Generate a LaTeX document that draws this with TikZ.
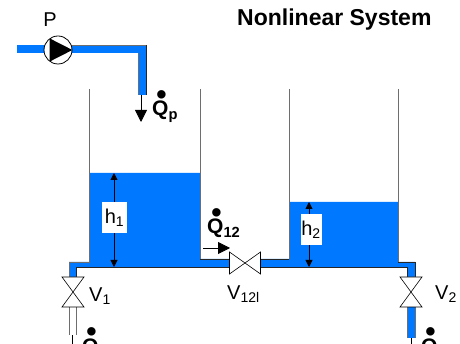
\documentclass[tikz,border=0pt]{standalone}
\usepackage{fontspec}
\setmainfont{Liberation Sans}
\usepackage{xcolor}
\usetikzlibrary{arrows.meta, positioning}
\definecolor{water}{RGB}{0,120,255}
\definecolor{wall}{RGB}{110,110,110}
\newcommand{\Qdot}[1]{\textbf{\rlap{\hspace{.2em}\raisebox{.53em}{\scalebox{1.4}{\textbullet}}}Q\textsubscript{#1}}}
\tikzset{
  label text/.style={inner sep=0pt, font=\fontsize{20}{20}\selectfont},
  flow text/.style={inner sep=0pt, anchor=base west, font=\fontsize{21}{21}\selectfont},
  height box/.style={fill=white, inner sep=0pt, font=\fontsize{20}{20}\selectfont},
  valve box/.style={minimum width=#1, inner sep=0pt, outer sep=0pt, fill=white},
  valve body/.style={draw=black, fill=white, line width=.6pt},
  wall line/.style={draw=wall, line width=.9pt},
  base line/.style={draw=black!85, line width=.8pt},
  flow arrow/.style={-{Triangle[length=12pt,width=12pt]}, line width=.8pt},
  height arrow/.style={{Triangle[length=7pt,width=7pt]}-{Triangle[length=7pt,width=7pt]}, line width=.8pt}
}
\begin{document}
\begin{tikzpicture}[x=1pt,y=-1pt]
\useasboundingbox (0,0) rectangle (460,344);
% water and pipes
\fill[water] (89,173) -- (200,173) -- (200,259) -- (289,259) -- (289,202) -- (398,202) -- (398,262) -- (415,262) -- (415,277) -- (407,277) -- (407,267) -- (76,267) -- (76,277) -- (69,277) -- (69,262) -- (89,262) -- cycle;
\fill[water] (17,45) rectangle (146,53);
\fill[water] (138,45) rectangle (146,95);
\fill[water] (407,307) rectangle (415,338);
\draw[wall line] (58,45) -- (146,45);
\draw[base line] (146,45) -- (146,95);
\draw[wall line] (138,53) -- (138,95);
% tanks
\draw[wall line] (89,89) -- (89,262) -- (69,262) -- (69,277);
\draw[wall line] (200,89) -- (200,259);
\draw[base line] (200,259) -- (229,259);
\draw[wall line] (289,89) -- (289,259);
\draw[base line] (260,259) -- (289,259);
\draw[wall line] (398,89) -- (398,262);
\draw[base line] (398,262) -- (415,262) -- (415,277);
\draw[base line] (76,277) -- (76,267) -- (407,267) -- (407,277);
\draw[wall line] (69,307) -- (69,335);
\draw[wall line] (76,307) -- (76,335);
\draw[wall line] (407,307) -- (407,338);
\draw[wall line] (415,307) -- (415,338);
% pump
\node[draw=black, fill=white, circle, line width=.8pt, minimum size=28pt, inner sep=0pt] (pump) at (58,50) {};
\fill (pump.126) -- (pump.0) -- (pump.234) -- cycle;
\node[label text, above=9pt of pump, xshift=-8pt] (labelP) {P};
% valves
\node[valve box=22pt, minimum height=30pt] (valveA) at (73,292) {};
\node[valve box=22pt, minimum height=30pt] (valveB) at (411,292) {};
\node[valve box=31pt, minimum height=22pt] (valveC) at (245,263) {};
\foreach \v in {valveA, valveB}
  \draw[valve body] (\v.north west) -- (\v.north east) -- (\v.south west) -- (\v.south east) -- cycle;
\draw[valve body] (valveC.north west) -- (valveC.south west) -- (valveC.north east) -- (valveC.south east) -- cycle;
\node[label text, anchor=west] (labelA) at (89,296) {V\textsubscript{1}};
\node[label text, anchor=west] (labelB) at (435,294) {V\textsubscript{2}};
\node[label text, anchor=west] (labelC) at (227,294) {V\textsubscript{12l}};
% levels
\coordinate (topA) at (114,173);
\coordinate (botA) at (114,267);
\coordinate (topB) at (309,202);
\coordinate (botB) at (309,267);
\draw[height arrow] (topA) -- (botA);
\draw[height arrow] (topB) -- (botB);
\node[height box, minimum width=25pt, minimum height=31pt] (levelA) at (114.5,217.5) {h\textsubscript{1}};
\node[height box, minimum width=21pt, minimum height=31pt] (levelB) at (311,229.5) {h\textsubscript{2}};
% flows
\coordinate (feedA) at (141,95);
\coordinate (feedB) at (141,122);
\coordinate (linkA) at (203,248);
\coordinate (linkB) at (230,248);
\draw[flow arrow] (feedA) -- (feedB);
\draw[flow arrow] (linkA) -- (linkB);
\coordinate (outA) at (72,335);
\coordinate (outB) at (72,346);
\coordinate (outC) at (411,338);
\coordinate (outD) at (411,346);
\draw[line width=.8pt] (outA) -- (outB);
\draw[line width=.8pt] (outC) -- (outD);
\node[flow text] (flowP) at (152,116) {\Qdot{p}};
\node[flow text] (flowL) at (207,234) {\Qdot{12}};
\node[flow text] (flowA) at (82,353) {\Qdot{1}};
\node[flow text] (flowB) at (421,353) {\Qdot{2}};
% title
\node[inner sep=0pt, anchor=west, font=\bfseries\fontsize{23}{23}\selectfont] (title) at (237,20) {Nonlinear System};
\end{tikzpicture}
\end{document}
